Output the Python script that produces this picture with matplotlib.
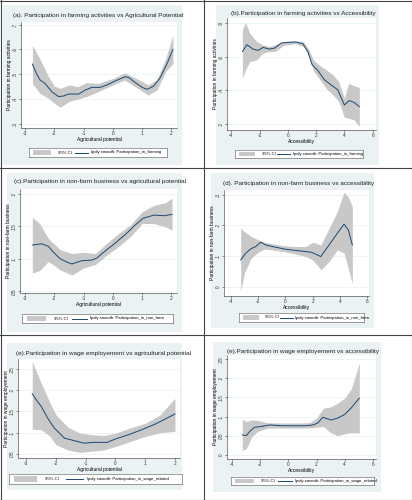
"""
Six lpoly smooth panels (Stata-like look): participation vs agricultural potential / accessibility
"""

import matplotlib
matplotlib.use("Agg")
import matplotlib.pyplot as plt
from matplotlib.patches import Rectangle
from matplotlib.lines import Line2D

plt.rcParams['font.family'] = ['Liberation Sans', 'DejaVu Sans']

# ---- data ----
# (a) farming vs agricultural potential
a_x = [-2.75, -2.6, -2.49, -2.32, -2.09, -1.86, -1.69, -1.52, -1.17, -0.95, -0.72, -0.43, -0.2,
       0.08, 0.42, 0.54, 0.77, 1.0, 1.17, 1.39, 1.62, 1.85, 2.05]
a_y = [0.541, 0.50, 0.477, 0.463, 0.43, 0.41, 0.412, 0.42, 0.42, 0.436, 0.447, 0.447, 0.457,
       0.473, 0.49, 0.487, 0.466, 0.447, 0.439, 0.452, 0.487, 0.543, 0.60]
a_ci_x = [-2.75, -2.5, -2.2, -2.0, -1.8, -1.5, -1.2, -0.9, -0.5, 0.0, 0.4, 0.8, 1.2, 1.5, 1.8, 2.05]
a_lo = [0.463, 0.423, 0.403, 0.383, 0.367, 0.39, 0.40, 0.41, 0.43, 0.457, 0.477, 0.447, 0.416, 0.436, 0.51, 0.543]
a_hi = [0.617, 0.563, 0.49, 0.452, 0.443, 0.457, 0.45, 0.466, 0.463, 0.483, 0.506, 0.483, 0.457, 0.477, 0.563, 0.657]

# (b) farming vs accessibility
b_x = [-3.22, -2.89, -2.47, -2.12, -1.76, -1.29, -0.94, -0.47, 0.0, 0.59, 1.06, 1.41, 1.72,
       2.12, 2.59, 3.06, 3.53, 4.0, 4.35, 4.71, 5.06]
b_y = [0.631, 0.671, 0.645, 0.637, 0.655, 0.645, 0.651, 0.681, 0.685, 0.687, 0.677, 0.631, 0.552,
       0.518, 0.462, 0.432, 0.403, 0.313, 0.339, 0.327, 0.303]
b_ci_x = [-3.22, -3.0, -2.7, -2.2, -1.8, -1.3, -0.9, -0.3, 0.5, 1.1, 1.5, 1.8, 2.2, 2.7, 3.2,
          3.6, 4.0, 4.3, 4.7, 5.06]
b_lo = [0.472, 0.522, 0.571, 0.581, 0.621, 0.631, 0.631, 0.667, 0.677, 0.661, 0.601, 0.518, 0.472,
        0.413, 0.373, 0.333, 0.24, 0.234, 0.224, 0.184]
b_hi = [0.76, 0.804, 0.74, 0.69, 0.671, 0.661, 0.671, 0.69, 0.694, 0.69, 0.641, 0.581, 0.552,
        0.522, 0.492, 0.452, 0.353, 0.442, 0.426, 0.418]

# (c) non-farm vs agricultural potential
c_x = [-2.75, -2.43, -2.2, -2.03, -1.8, -1.57, -1.4, -1.06, -0.72, -0.55, -0.26, 0.08, 0.42,
       0.77, 1.03, 1.4, 1.74, 2.02]
c_y = [0.121, 0.123, 0.119, 0.110, 0.100, 0.095, 0.092, 0.097, 0.098, 0.101, 0.112, 0.124, 0.137,
       0.152, 0.162, 0.167, 0.166, 0.168]
c_ci_x = [-2.75, -2.5, -2.2, -1.8, -1.4, -1.0, -0.6, -0.2, 0.2, 0.6, 1.0, 1.4, 1.8, 2.02]
c_lo = [0.078, 0.082, 0.096, 0.083, 0.075, 0.086, 0.091, 0.106, 0.119, 0.134, 0.154, 0.154, 0.149, 0.144]
c_hi = [0.164, 0.154, 0.131, 0.114, 0.108, 0.11, 0.108, 0.124, 0.139, 0.152, 0.172, 0.182, 0.186, 0.193]

# (d) non-farm vs accessibility
d_x = [-3.27, -2.9, -2.54, -2.17, -1.8, -1.44, -0.95, 0.02, 1.0, 1.93, 2.59, 3.2, 3.8, 4.29, 4.61, 4.9]
d_y = [0.087, 0.109, 0.123, 0.131, 0.145, 0.136, 0.131, 0.122, 0.117, 0.112, 0.098, 0.136, 0.174,
       0.204, 0.185, 0.136]
d_ci_x = [-3.27, -3.0, -2.5, -2.0, -1.5, -0.5, 0.5, 1.5, 2.0, 2.6, 3.2, 3.8, 4.3, 4.6, 4.9]
d_lo = [-0.016, 0.044, 0.093, 0.112, 0.123, 0.117, 0.109, 0.098, 0.087, 0.055, 0.082, 0.12, 0.109, 0.06, 0.008]
d_hi = [0.191, 0.18, 0.164, 0.153, 0.145, 0.136, 0.131, 0.131, 0.145, 0.136, 0.191, 0.245, 0.309, 0.294, 0.262]

# (e) wage vs agricultural potential
e_x = [-2.8, -2.67, -2.5, -2.28, -2.06, -1.72, -1.39, -1.06, -0.72, -0.28, 0.0, 0.44, 0.89,
       1.33, 1.67, 2.0]
e_y = [0.192, 0.178, 0.162, 0.134, 0.111, 0.087, 0.081, 0.075, 0.077, 0.077, 0.085, 0.095, 0.107,
       0.12, 0.132, 0.144]
e_ci_x = [-2.8, -2.5, -2.2, -2.0, -1.6, -1.2, -0.8, -0.4, 0.0, 0.5, 1.0, 1.5, 2.0]
e_lo = [0.108, 0.107, 0.091, 0.071, 0.059, 0.053, 0.056, 0.059, 0.067, 0.079, 0.091, 0.10, 0.103]
e_hi = [0.268, 0.217, 0.17, 0.142, 0.113, 0.099, 0.095, 0.093, 0.099, 0.111, 0.122, 0.142, 0.181]

# (f) wage vs accessibility
f_x = [-3.29, -3.0, -2.77, -2.41, -1.94, -1.35, -0.4, 0.31, 1.26, 1.73, 2.09, 2.45, 3.04, 3.51,
       3.99, 4.46, 5.05]
f_y = [0.052, 0.05, 0.061, 0.072, 0.074, 0.078, 0.076, 0.076, 0.076, 0.078, 0.083, 0.098, 0.091,
       0.096, 0.105, 0.122, 0.148]
f_ci_x = [-3.29, -3.0, -2.6, -2.2, -1.5, -0.5, 0.5, 1.5, 2.0, 2.5, 3.0, 3.5, 4.0, 4.5, 5.05]
f_lo = [0.011, 0.017, 0.048, 0.061, 0.07, 0.07, 0.07, 0.07, 0.072, 0.074, 0.058, 0.05, 0.055, 0.058, 0.057]
f_hi = [0.093, 0.087, 0.091, 0.09, 0.084, 0.083, 0.083, 0.084, 0.096, 0.122, 0.125, 0.135, 0.148, 0.174, 0.24]

# tick labels
agri_ticks = [-3, -2, -1, 0, 1, 2]
acc_ticks = [-4, -2, 0, 2, 4, 6]
a_yticks = [0.3, 0.4, 0.5, 0.6, 0.7]
b_yticks = [0.2, 0.4, 0.6, 0.8]
c_yticks = [0.05, 0.1, 0.15, 0.2]
d_yticks = [0, 0.1, 0.2, 0.3]
e_yticks = [0.05, 0.1, 0.15, 0.2, 0.25]
f_yticks = [0, 0.05, 0.1, 0.15, 0.2, 0.25]

titles = [
    "(a). Participation in farming activities vs Agricultural Potential",
    "(b).Participation in farming activities vs Accessibility",
    "(c).Participation in non-farm business vs agricultural potential",
    "(d). Participation in non-farm business vs accessibility",
    "(e).Participation in wage employement vs agricultural potential",
    "(e).Participation in wage employement vs accessibility",
]
ylabels = ["Participation in farming activities", "Participation in farming activities",
           "Participation in non-farm business", "Participation in non-farm business",
           "Participation in wage employement", "Participation in wage employement"]
xlabels = ["Agricultural potential", "Accessibility"] * 3
smooth_names = ["Participation_in_farming", "Participation_in_farming",
                "Participation_in_non_farm", "Participation_in_non_farm",
                "Participation_in_wage_related", "Participation_in_wage_related"]

W, H = 412, 500
BG = '#EAF2F3'
NAVY = '#1A476F'
CI = '#C8C8C8'


def frac(x0, y0, x1, y1):
    return [x0 / W, 1 - y1 / H, (x1 - x0) / W, (y1 - y0) / H]


def fmt(v):
    if v == 0:
        return "0"
    s = f"{v:g}"
    return s.replace("0.", ".", 1)


# layout in pixels: background box, plot area, legend box, title centre
panels = [
    dict(bg=(3, 5, 182, 165), ax=(21, 22, 177, 128), leg=(29, 148, 167, 157), tc=(98, 15),
         xlim=(-3.14, 2.19), ylim=(0.283, 0.711)),
    dict(bg=(216, 5, 379, 165), ax=(227, 18, 376, 130), leg=(235, 150, 363, 158), tc=(303, 13),
         xlim=(-4.31, 6.24), ylim=(0.164, 0.83)),
    dict(bg=(7, 173, 182, 332), ax=(20, 189, 177, 293), leg=(22, 314, 173, 323), tc=(100, 182),
         xlim=(-3.17, 2.19), ylim=(0.0475, 0.207)),
    dict(bg=(211, 173, 374, 328), ax=(224, 190, 369, 296), leg=(239, 313, 364, 322), tc=(299, 184),
         xlim=(-4.49, 6.12), ylim=(-0.031, 0.316)),
    dict(bg=(7, 343, 182, 490), ax=(18, 359, 180, 458), leg=(9, 474, 182, 484), tc=(103, 353),
         xlim=(-3.28, 2.17), ylim=(0.04, 0.274)),
    dict(bg=(213, 342, 381, 492), ax=(227, 355, 376, 459), leg=(231, 477, 374, 485), tc=(303, 351),
         xlim=(-4.38, 6.24), ylim=(-0.011, 0.261)),
]

series = [
    (a_x, a_y, a_ci_x, a_lo, a_hi, agri_ticks, a_yticks),
    (b_x, b_y, b_ci_x, b_lo, b_hi, acc_ticks, b_yticks),
    (c_x, c_y, c_ci_x, c_lo, c_hi, agri_ticks, c_yticks),
    (d_x, d_y, d_ci_x, d_lo, d_hi, acc_ticks, d_yticks),
    (e_x, e_y, e_ci_x, e_lo, e_hi, agri_ticks, e_yticks),
    (f_x, f_y, f_ci_x, f_lo, f_hi, acc_ticks, f_yticks),
]

fig = plt.figure(figsize=(W / 100, H / 100), dpi=100)

for i, (p, s) in enumerate(zip(panels, series)):
    xs, ys, cx, lo, hi, xt, yt = s
    x0, y0, x1, y1 = p['bg']
    fig.add_artist(Rectangle((x0 / W, 1 - y1 / H), (x1 - x0) / W, (y1 - y0) / H,
                             transform=fig.transFigure, facecolor=BG, edgecolor='none', zorder=0))

    ax = fig.add_axes(frac(*p['ax']))
    ax.set_facecolor('white')
    ax.fill_between(cx, lo, hi, color=CI, linewidth=0, zorder=2)
    ax.plot(xs, ys, color=NAVY, linewidth=0.7, zorder=3)
    ax.set_xlim(*p['xlim'])
    ax.set_ylim(*p['ylim'])
    ax.set_xticks(xt)
    ax.set_xticklabels([str(t) for t in xt], fontsize=3.4)
    ax.set_yticks(yt)
    ax.set_yticklabels([fmt(t) for t in yt], fontsize=3.4, rotation=90, va='center')
    ax.yaxis.grid(True, color=BG, linewidth=0.6, zorder=1)
    ax.set_axisbelow(True)
    for sp in ['top', 'right']:
        ax.spines[sp].set_visible(False)
    for sp in ['left', 'bottom']:
        ax.spines[sp].set_linewidth(0.4)
        ax.spines[sp].set_color('#333333')
    ax.tick_params(length=1.5, width=0.4, pad=1, colors='#333333')
    ax.set_xlabel(xlabels[i], fontsize=3.5, labelpad=0.5)
    ax.set_ylabel(ylabels[i], fontsize=3.5, labelpad=0.5)

    fig.text(p['tc'][0] / W, 1 - p['tc'][1] / H, titles[i], fontsize=4.6,
             ha='center', va='center', color='#222222')

    # legend box
    lx0, ly0, lx1, ly1 = p['leg']
    lg = fig.add_axes(frac(*p['leg']))
    lg.set_xlim(0, 1)
    lg.set_ylim(0, 1)
    lg.set_xticks([])
    lg.set_yticks([])
    lg.set_facecolor('white')
    for sp in lg.spines.values():
        sp.set_linewidth(0.4)
        sp.set_color('#555555')
    lg.add_patch(Rectangle((0.03, 0.2), 0.13, 0.6, facecolor=CI, edgecolor='none'))
    lg.text(0.21, 0.5, "95% CI", fontsize=3.1, va='center', ha='left')
    lg.plot([0.33, 0.43], [0.5, 0.5], color=NAVY, linewidth=0.7)
    lg.text(0.45, 0.5, "lpoly smooth: " + smooth_names[i], fontsize=3.1, va='center', ha='left')

# table frame lines
frame = dict(transform=fig.transFigure, color='#444444', linewidth=0.8)
fig.add_artist(Line2D([0.5 / W, 0.5 / W], [0, 1], **frame))
fig.add_artist(Line2D([1 - 0.5 / W, 1 - 0.5 / W], [0, 1], **frame))
fig.add_artist(Line2D([0, 1], [1 - 0.5 / H, 1 - 0.5 / H], **frame))
fig.add_artist(Line2D([0, 1], [0.5 / H, 0.5 / H], **frame))
fig.add_artist(Line2D([204 / W, 204 / W], [0, 1], **frame))
fig.add_artist(Line2D([0, 1], [1 - 168 / H, 1 - 168 / H], **frame))
fig.add_artist(Line2D([0, 1], [1 - 335 / H, 1 - 335 / H], **frame))

fig.savefig('out.png', dpi=100)
